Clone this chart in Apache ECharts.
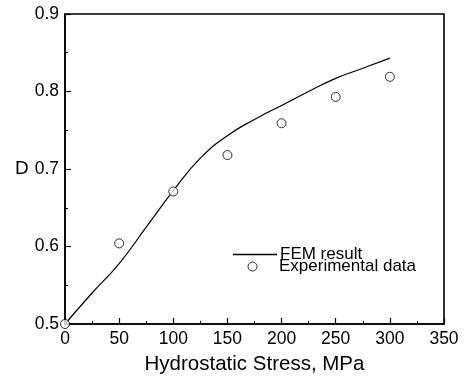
<!DOCTYPE html>
<html>
<head>
<meta charset="utf-8">
<script src="https://cdn.jsdelivr.net/npm/echarts@6/dist/echarts.min.js"></script>
<style>html,body{margin:0;padding:0;background:#fff}#c{width:465px;height:380px}</style>
</head>
<body>
<div id="c"></div>
<script>
const femX = [0, 25, 50, 75, 100, 125, 150, 175, 200, 225, 250, 275, 300];
const femY = [0.5, 0.540, 0.578, 0.625, 0.672, 0.714, 0.743, 0.764, 0.782, 0.800, 0.817, 0.830, 0.843];
const expX = [0, 50, 100, 150, 200, 250, 300];
const expY = [0.5, 0.604, 0.671, 0.718, 0.759, 0.793, 0.819];
const xTicks = [0, 50, 100, 150, 200, 250, 300, 350];
const yTicks = [0.5, 0.6, 0.7, 0.8, 0.9];
const names = ['FEM result', 'Experimental data'];

const font = 'Liberation Sans, Arial, sans-serif';
const chart = echarts.init(document.getElementById('c'), null, {renderer: 'canvas'});
chart.setOption({
  animation: false,
  backgroundColor: '#fff',
  grid: {left: 65, right: 21, top: 14, bottom: 52, show: true, borderColor: '#000', borderWidth: 1.6},
  legend: [
    {data: [{name: names[0], icon: 'rect'}], left: 233, top: 246, itemWidth: 44, itemHeight: 1.3, itemGap: 4,
     itemStyle: {color: '#000', borderWidth: 0},
     textStyle: {fontFamily: font, fontSize: 17, color: '#000', padding: [0,0,0,-2]}, padding: 0},
    {data: [{name: names[1], icon: 'circle'}], left: 247.5, top: 258, itemWidth: 9, itemHeight: 9, itemGap: 4,
     itemStyle: {color: '#fff', borderColor: '#000', borderWidth: 1},
     textStyle: {fontFamily: font, fontSize: 17, color: '#000', padding: [0,0,0,17]}, padding: 0}
  ],
  xAxis: {
    type: 'value', min: xTicks[0], max: xTicks[xTicks.length - 1], interval: 50,
    name: 'Hydrostatic Stress, MPa', nameLocation: 'middle', nameGap: 30,
    nameTextStyle: {fontFamily: font, fontSize: 20.5, color: '#000'},
    axisLine: {lineStyle: {color: '#000', width: 1.6}},
    axisTick: {inside: true, length: 6, lineStyle: {color: '#000', width: 1.2}},
    minorTick: {show: true, splitNumber: 2, length: 3, lineStyle: {color: '#000', width: 1}},
    axisLabel: {fontFamily: font, fontSize: 17.5, color: '#000', margin: 6},
    splitLine: {show: false}
  },
  yAxis: {
    type: 'value', min: yTicks[0], max: yTicks[yTicks.length - 1], interval: 0.1,
    name: 'D', nameLocation: 'middle', nameGap: 33, nameRotate: 0,
    nameTextStyle: {fontFamily: font, fontSize: 19, color: '#000'},
    axisLine: {lineStyle: {color: '#000', width: 1.6}},
    axisTick: {inside: true, length: 6, lineStyle: {color: '#000', width: 1.2}},
    minorTick: {show: true, splitNumber: 2, length: 3, lineStyle: {color: '#000', width: 1}},
    axisLabel: {fontFamily: font, fontSize: 17.5, color: '#000', margin: 6, formatter: v => v.toFixed(1)},
    splitLine: {show: false}
  },
  series: [
    {name: names[0], type: 'line', data: femX.map((x, i) => [x, femY[i]]), smooth: 0.5,
     showSymbol: false, symbol: 'none', lineStyle: {color: '#000', width: 1.2}, itemStyle: {color: '#000'}, z: 2},
    {name: names[1], type: 'scatter', data: expX.map((x, i) => [x, expY[i]]), symbol: 'circle', symbolSize: 9,
     clip: false, itemStyle: {color: '#fff', borderColor: '#000', borderWidth: 1}, z: 3}
  ]
});
</script>
</body>
</html>
